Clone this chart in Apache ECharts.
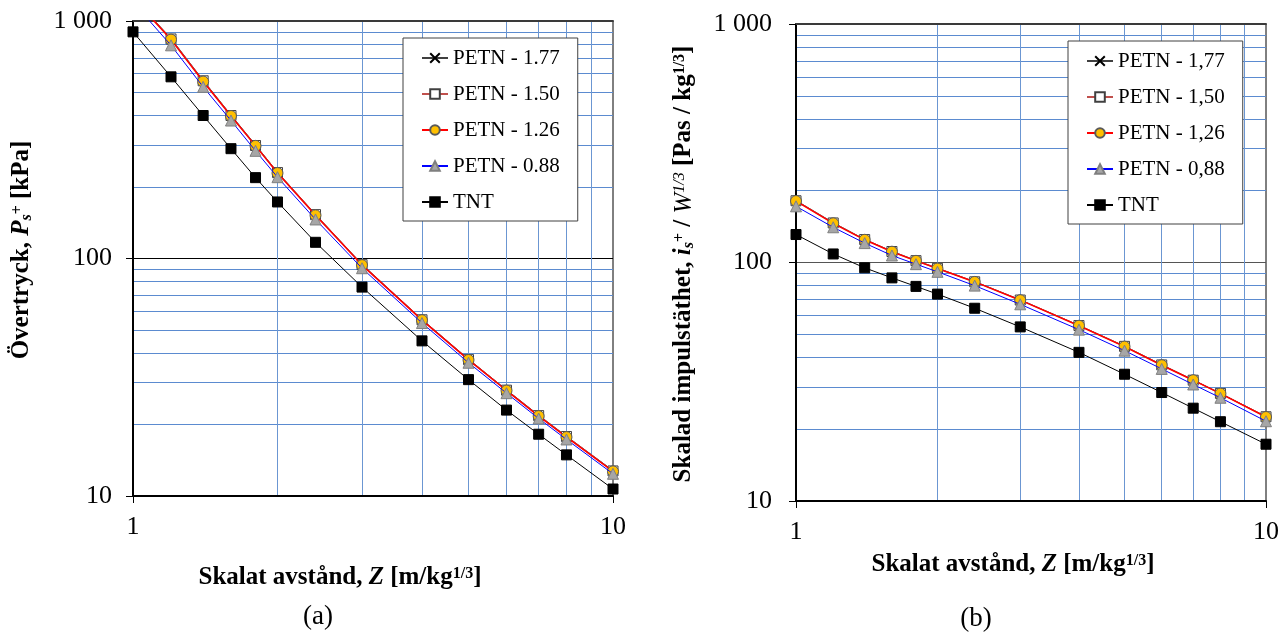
<!DOCTYPE html>
<html>
<head>
<meta charset="utf-8">
<script src="https://cdn.jsdelivr.net/npm/echarts@6/dist/echarts.min.js"></script>
<style>
html, body { margin: 0; padding: 0; background: #ffffff; }
#chart { width: 1282px; height: 633px; }
</style>
</head>
<body>
<div id="chart"></div>
<script>
// Scaled distance Z [m/kg^(1/3)] shared by both panels
const distances = [1, 1.2, 1.4, 1.6, 1.8, 2, 2.4, 3, 4, 5, 6, 7, 8, 10];

// Legend names (panel a uses decimal points, panel b decimal commas)
const namesA = ['PETN - 1.77', 'PETN - 1.50', 'PETN - 1.26', 'PETN - 0.88', 'TNT'];
const namesB = ['PETN - 1,77', 'PETN - 1,50', 'PETN - 1,26', 'PETN - 0,88', 'TNT'];

// (a) Peak overpressure P_s+ [kPa]
const pressurePetn177 = [1260, 845, 563, 402, 301, 231, 153.5, 94.5, 55.4, 37.7, 28.0, 21.9, 17.85, 12.8];
const pressurePetn150 = [1255, 840, 560, 400, 299, 230, 153, 94.2, 55.2, 37.5, 27.9, 21.8, 17.8, 12.75];
const pressurePetn126 = [1250, 835, 556, 398, 298, 229, 152, 93.8, 55.0, 37.4, 27.8, 21.7, 17.7, 12.7];
const pressurePetn088 = [1200, 790, 528, 381, 284, 220, 146, 91.0, 53.5, 36.4, 27.1, 21.2, 17.3, 12.4];
const pressureTnt     = [900, 582, 400, 290, 219, 173, 117, 75.8, 45.0, 30.9, 23.0, 18.2, 14.9, 10.7];

// (b) Scaled impulse density i_s+ / W^(1/3) [Pas / kg^(1/3)]
const impulsePetn177 = [182, 147, 125, 111.5, 102, 94.6, 83.2, 69.8, 54.5, 44.6, 37.3, 32.2, 28.3, 22.6];
const impulsePetn150 = [181.5, 146.5, 124.8, 111.2, 101.8, 94.5, 83.0, 69.6, 54.4, 44.5, 37.2, 32.1, 28.25, 22.55];
const impulsePetn126 = [181, 146, 124.5, 111, 101.6, 94.3, 82.9, 69.5, 54.3, 44.4, 37.1, 32.1, 28.2, 22.5];
const impulsePetn088 = [172, 140.5, 120.6, 107, 98.4, 91.4, 80, 66.8, 52.3, 42.7, 35.8, 30.8, 27.1, 21.6];
const impulseTnt     = [131, 108.6, 95, 86.2, 79.4, 73.7, 64.3, 53.7, 42.0, 34.0, 28.5, 24.5, 21.5, 17.3];

// Axis ranges (log axes, one decade on x, two on y)
const xRange = [1, 10];
const yRange = [10, 1000];

const serif = '"Liberation Serif", "Times New Roman", "DejaVu Serif", serif';

// Marker / line look per series, in legend order
const looks = [
  { symbol: 'path://M0,0L10,10M10,0L0,10', line: '#404040', width: 1, fill: '#000000', border: '#000000', size: 9 },
  { symbol: 'rect', line: '#C0504D', width: 1.2, fill: '#ffffff', border: '#404040', size: 10 },
  { symbol: 'circle', line: '#FF0000', width: 1.5, fill: '#FFC000', border: '#595959', size: 11 },
  { symbol: 'triangle', line: '#0000FF', width: 1, fill: '#A6A6A6', border: '#7F7F7F', size: 11 },
  { symbol: 'rect', line: '#000000', width: 1, fill: '#000000', border: '#000000', size: 10 }
];

const pairs = (vals) => distances.map((x, i) => [x, vals[i]]);

function makeSeries(names, valueSets, axisIndex) {
  return names.map((name, i) => ({
    name: name,
    type: 'line',
    xAxisIndex: axisIndex,
    yAxisIndex: axisIndex,
    data: pairs(valueSets[i]),
    clip: true,
    symbol: looks[i].symbol,
    symbolSize: looks[i].size,
    showSymbol: true,
    lineStyle: { color: looks[i].line, width: looks[i].width },
    itemStyle: { color: looks[i].fill, borderColor: looks[i].border, borderWidth: 1 },
    emphasis: { disabled: true },
    z: 3 + i
  }));
}

function bottomAxis(gridIndex, labelMargin) {
  return {
    type: 'log', logBase: 10, gridIndex: gridIndex,
    min: xRange[0], max: xRange[1],
    axisLine: { show: true, onZero: false, lineStyle: { color: '#000000', width: 2 } },
    axisTick: { show: true, inside: false, length: 7, lineStyle: { color: '#000000', width: 1 } },
    axisLabel: { fontFamily: serif, fontSize: 26, color: '#000000', margin: labelMargin },
    splitLine: { show: false },
    minorTick: { show: false, splitNumber: 9 },
    minorSplitLine: { show: true, lineStyle: { color: '#6B96D2', width: 1 } }
  };
}

function topAxis(gridIndex) {
  return {
    type: 'log', logBase: 10, gridIndex: gridIndex, position: 'top',
    min: xRange[0], max: xRange[1],
    axisLine: { show: true, onZero: false, lineStyle: { color: '#3a3a3a', width: 2 } },
    axisTick: { show: false }, axisLabel: { show: false }, splitLine: { show: false }
  };
}

function leftAxis(gridIndex, labelMargin, majorColor) {
  return {
    type: 'log', logBase: 10, gridIndex: gridIndex,
    min: yRange[0], max: yRange[1],
    axisLine: { show: true, onZero: false, lineStyle: { color: '#000000', width: 2 } },
    axisTick: { show: true, inside: false, length: 7, lineStyle: { color: '#000000', width: 1 } },
    axisLabel: {
      fontFamily: serif, fontSize: 26, color: '#000000', margin: labelMargin,
      formatter: (v) => { const r = Math.round(v); return r === 1000 ? '1 000' : String(r); }
    },
    splitLine: { show: true, lineStyle: { color: majorColor, width: 1 } },
    minorTick: { show: false, splitNumber: 9 },
    minorSplitLine: { show: true, lineStyle: { color: '#5B8BD0', width: 1 } }
  };
}

function legendBox(names, left, top) {
  return {
    data: names, orient: 'vertical', left: left, top: top,
    backgroundColor: '#ffffff', borderColor: '#404040', borderWidth: 1, borderRadius: 0,
    padding: [8, 18, 7, 18],
    itemWidth: 26, itemHeight: 12, itemGap: 12,
    selectedMode: false,
    textStyle: { fontFamily: serif, fontSize: 21, color: '#000000', lineHeight: 24 }
  };
}

// Rich text pieces for the axis titles
const richTitle = {
  b: { fontFamily: serif, fontSize: 25, fontWeight: 'bold', fill: '#000000' },
  bi: { fontFamily: serif, fontSize: 25, fontWeight: 'bold', fontStyle: 'italic', fill: '#000000' },
  i: { fontFamily: serif, fontSize: 25, fontStyle: 'italic', fill: '#000000' },
  sup: { fontFamily: serif, fontSize: 16, fontWeight: 'bold', verticalAlign: 'top', fill: '#000000' },
  supi: { fontFamily: serif, fontSize: 16, fontStyle: 'italic', verticalAlign: 'top', fill: '#000000' },
  subi: { fontFamily: serif, fontSize: 16, fontWeight: 'bold', fontStyle: 'italic', verticalAlign: 'bottom', fill: '#000000' }
};

function titleText(text, x, y, rotated) {
  return {
    type: 'text', x: x, y: y, rotation: rotated ? Math.PI / 2 : 0, z: 10,
    style: {
      text: text, rich: richTitle,
      fontFamily: serif, fontSize: 25, fontWeight: 'bold', fill: '#000000',
      align: 'center', verticalAlign: 'middle', textAlign: 'center', textVerticalAlign: 'middle'
    }
  };
}

function caption(text, x, y) {
  return {
    type: 'text', x: x, y: y, z: 10,
    style: {
      text: text, fontFamily: serif, fontSize: 27, fill: '#000000',
      align: 'center', verticalAlign: 'middle', textAlign: 'center', textVerticalAlign: 'middle'
    }
  };
}

const chart = echarts.init(document.getElementById('chart'), null, { renderer: 'canvas' });

chart.setOption({
  animation: false,
  backgroundColor: '#ffffff',
  grid: [
    { left: 133, top: 21, width: 480, height: 475, show: true, borderColor: '#000000', borderWidth: 1, backgroundColor: 'transparent' },
    { left: 796, top: 24, width: 474, height: 477, show: true, borderColor: '#000000', borderWidth: 1, backgroundColor: 'transparent' }
  ],
  xAxis: [bottomAxis(0, 18), bottomAxis(1, 18), topAxis(0), topAxis(1)],
  yAxis: [leftAxis(0, 21, '#000000'), leftAxis(1, 24, '#555555')],
  legend: [legendBox(namesA, 403, 38), legendBox(namesB, 1068, 41)],
  series: [].concat(
    makeSeries(namesA, [pressurePetn177, pressurePetn150, pressurePetn126, pressurePetn088, pressureTnt], 0),
    makeSeries(namesB, [impulsePetn177, impulsePetn150, impulsePetn126, impulsePetn088, impulseTnt], 1)
  ),
  graphic: [
    titleText('{b|Skalat avstånd, }{bi|Z}{b| [m/kg}{sup|1/3}{b|]}', 340, 578, false),
    titleText('{b|Skalat avstånd, }{bi|Z}{b| [m/kg}{sup|1/3}{b|]}', 1013, 565, false),
    titleText('{b|Övertryck, }{bi|P}{subi|s}{sup|+}{b| [kPa]}', 22, 250, true),
    titleText('{b|Skalad impulstäthet, }{bi|i}{subi|s}{sup|+}{b| / }{i|W}{supi|1/3}{b| [Pas / kg}{sup|1/3}{b|]}', 684, 264, true),
    caption('(a)', 318, 617),
    caption('(b)', 976, 619)
  ]
});
</script>
</body>
</html>
